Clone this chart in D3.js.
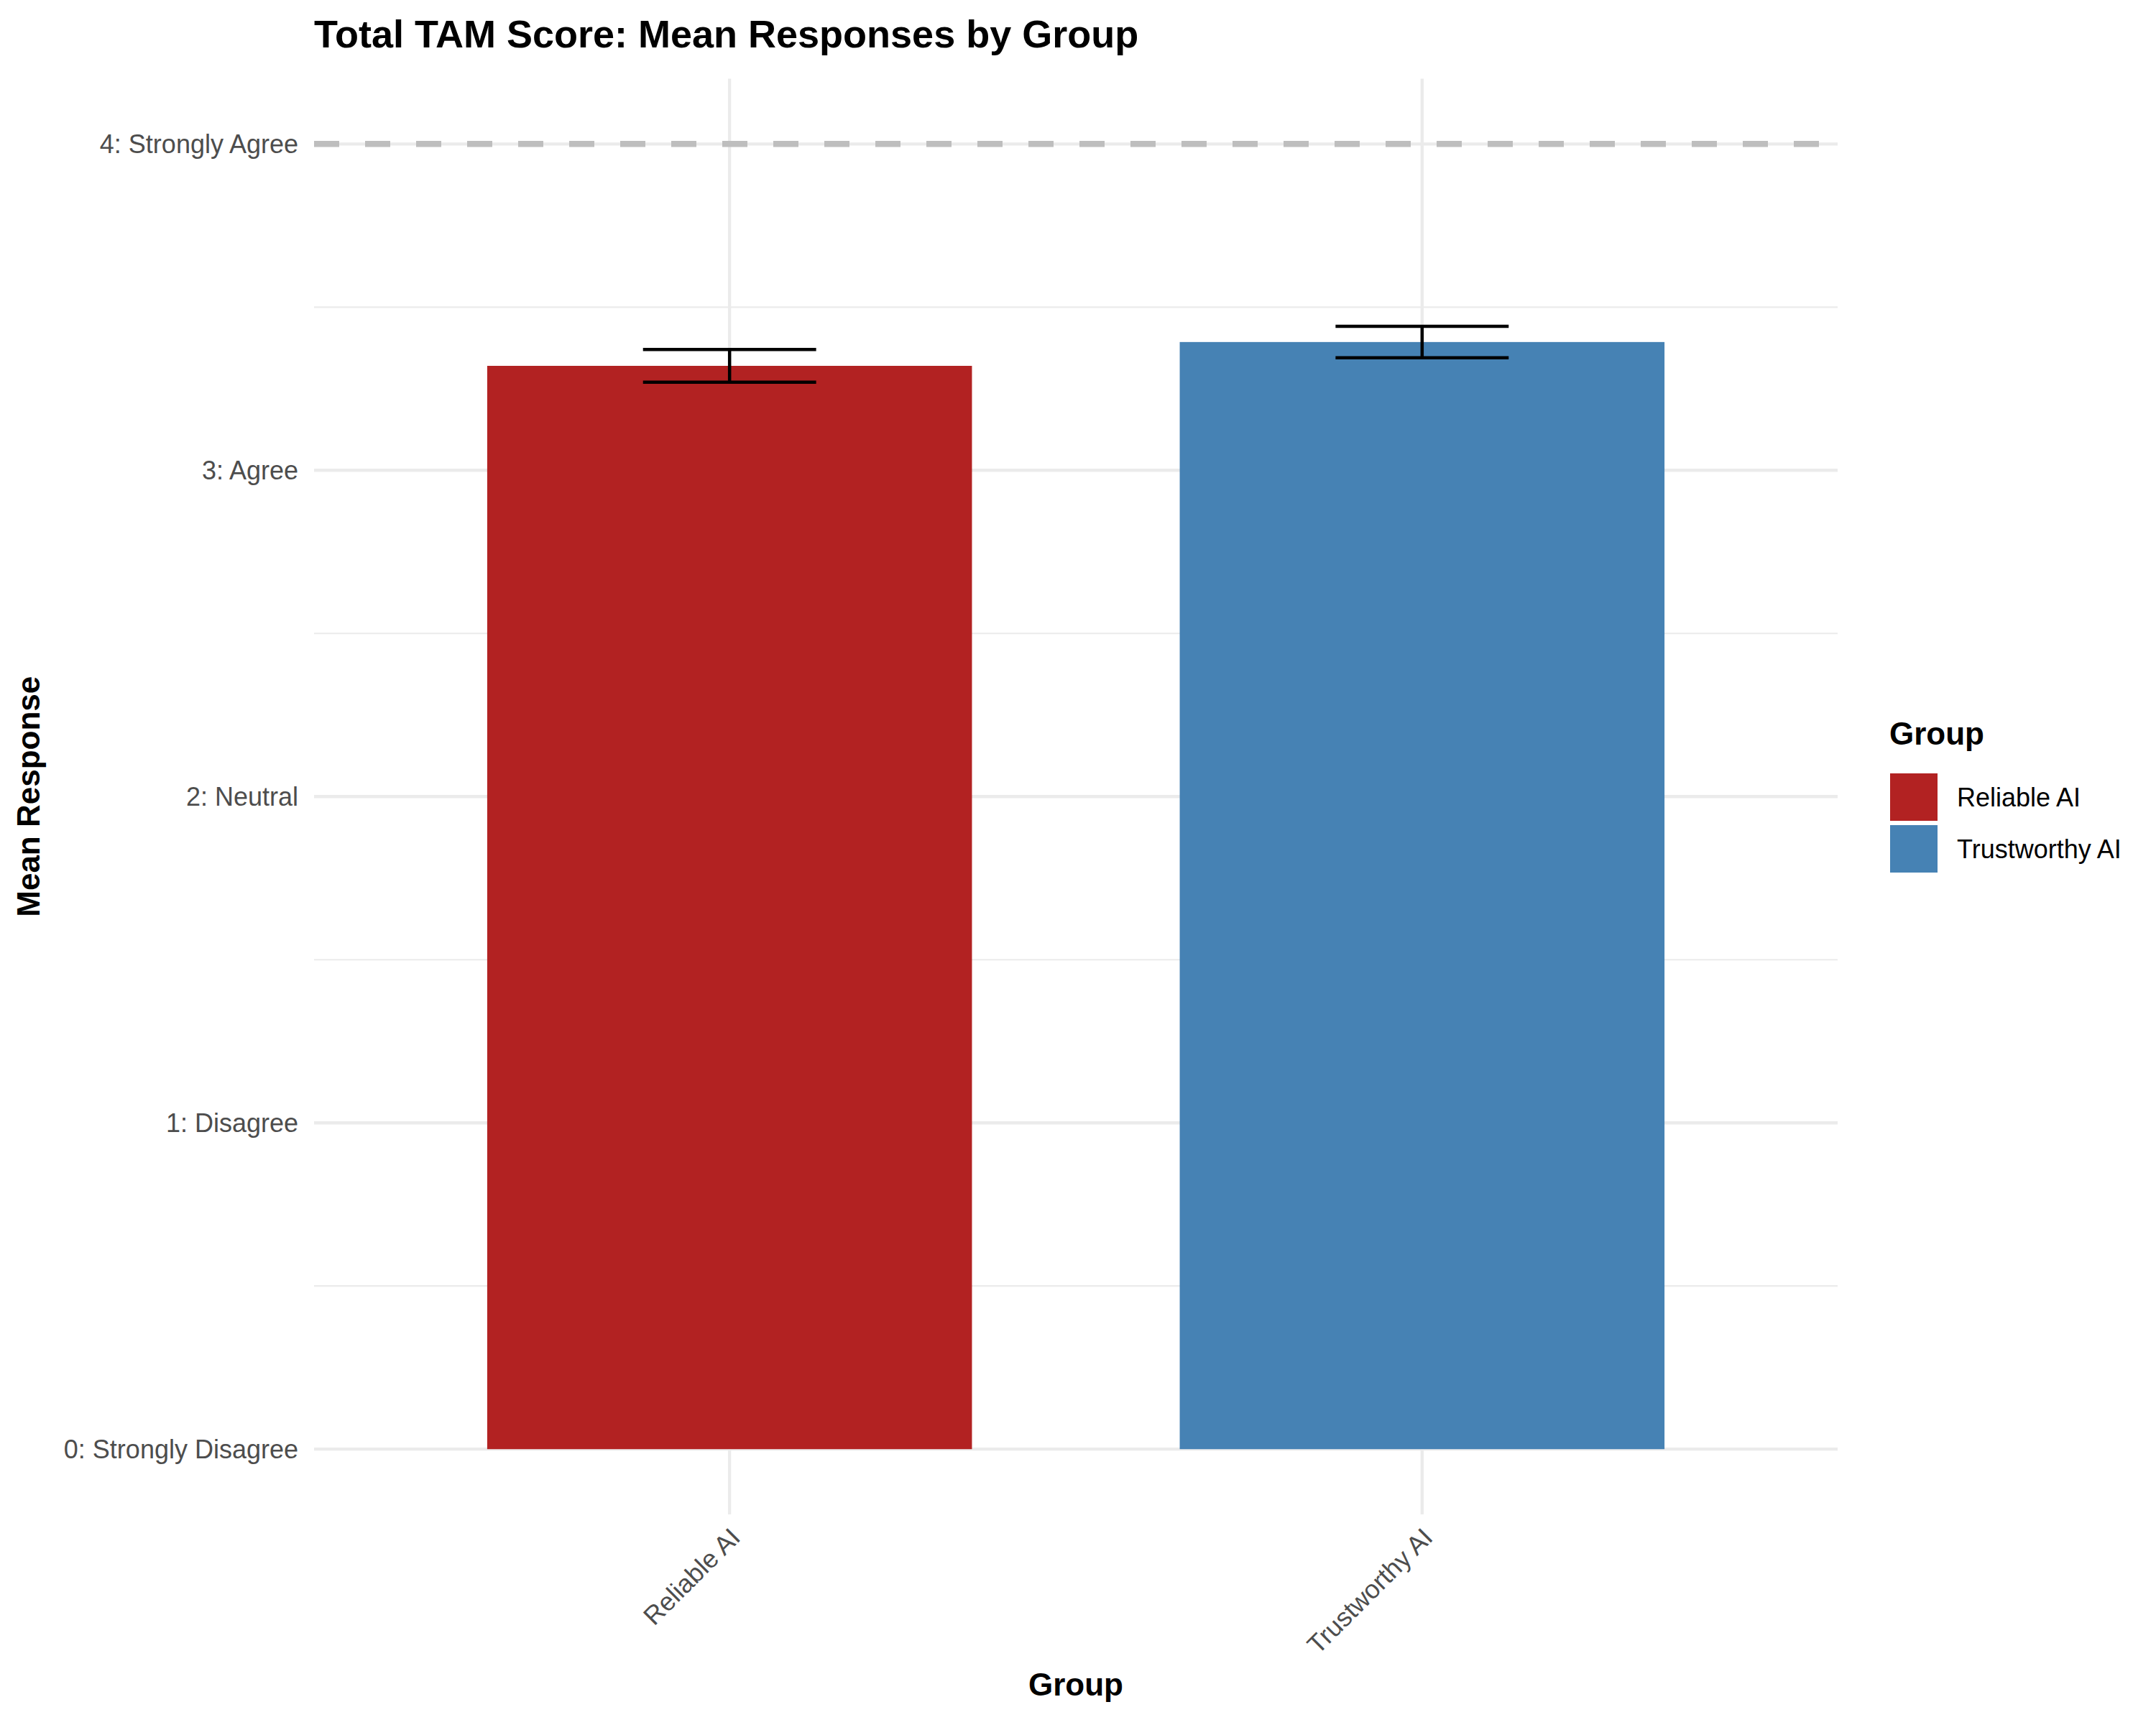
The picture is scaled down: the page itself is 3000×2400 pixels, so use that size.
<!DOCTYPE html>
<html>
<head>
<meta charset="utf-8">
<script src="https://cdn.jsdelivr.net/npm/d3@7"></script>
<style>
  html, body { margin: 0; padding: 0; background: #fff; }
  svg { display: block; font-family: "Liberation Sans", Arial, sans-serif; }
</style>
</head>
<body>
<script>
// ---- data ----
const groups = ["Reliable AI", "Trustworthy AI"];
const means = [3.32, 3.393];
const ses = [0.05, 0.048];
const colors = ["#B22222", "#4682B4"];
const yTickValues = [0, 1, 2, 3, 4];
const yTickLabels = ["0: Strongly Disagree", "1: Disagree", "2: Neutral", "3: Agree", "4: Strongly Agree"];
const yMinorValues = [0.5, 1.5, 2.5, 3.5];
const refLine = 4;
const titleText = "Total TAM Score: Mean Responses by Group";
const xTitle = "Group";
const yTitle = "Mean Response";
const legendTitle = "Group";

// ---- layout ----
const W = 3000, H = 2400;
const panel = { left: 437, right: 2557, top: 109.5, bottom: 2107 };

const svg = d3.select("body").append("svg").attr("width", W).attr("height", H);

const x = d3.scalePoint().domain(groups).range([panel.left, panel.right]).padding(0.6);
const step = x.step();
const y = d3.scaleLinear().domain([-0.2, 4.2]).range([panel.bottom, panel.top]);

const grid = svg.append("g");
// minor horizontal
grid.selectAll("line.minor").data(yMinorValues).join("line")
  .attr("x1", panel.left).attr("x2", panel.right)
  .attr("y1", d => y(d)).attr("y2", d => y(d))
  .attr("stroke", "#ebebeb").attr("stroke-width", 2.2);
// major horizontal
grid.selectAll("line.major").data(yTickValues).join("line")
  .attr("x1", panel.left).attr("x2", panel.right)
  .attr("y1", d => y(d)).attr("y2", d => y(d))
  .attr("stroke", "#ebebeb").attr("stroke-width", 4.3);
// major vertical
grid.selectAll("line.vmajor").data(groups).join("line")
  .attr("x1", d => x(d)).attr("x2", d => x(d))
  .attr("y1", panel.top).attr("y2", panel.bottom)
  .attr("stroke", "#ebebeb").attr("stroke-width", 4.3);

// reference dashed line
svg.append("line")
  .attr("x1", panel.left).attr("x2", panel.right)
  .attr("y1", y(refLine)).attr("y2", y(refLine))
  .attr("stroke", "#bebebe").attr("stroke-width", 8.5)
  .attr("stroke-dasharray", "35,36");

// bars
const barW = 0.7 * step;
svg.append("g").selectAll("rect").data(groups).join("rect")
  .attr("x", d => x(d) - barW / 2)
  .attr("width", barW)
  .attr("y", (d, i) => y(means[i]))
  .attr("height", (d, i) => y(0) - y(means[i]))
  .attr("fill", (d, i) => colors[i]);

// error bars
const capW = 0.25 * step;
const eb = svg.append("g").attr("stroke", "#000").attr("stroke-width", 4.5).attr("fill", "none");
groups.forEach((g, i) => {
  const cx = x(g), hi = y(means[i] + ses[i]), lo = y(means[i] - ses[i]);
  eb.append("line").attr("x1", cx).attr("x2", cx).attr("y1", hi).attr("y2", lo);
  eb.append("line").attr("x1", cx - capW / 2).attr("x2", cx + capW / 2).attr("y1", hi).attr("y2", hi);
  eb.append("line").attr("x1", cx - capW / 2).attr("x2", cx + capW / 2).attr("y1", lo).attr("y2", lo);
});

// y axis labels
const yAxis = d3.axisLeft(y).tickValues(yTickValues)
  .tickFormat((d, i) => yTickLabels[i]).tickSize(0).tickPadding(0);
const gy = svg.append("g").attr("transform", `translate(415,0)`).call(yAxis);
gy.select(".domain").remove();
gy.selectAll("text").attr("fill", "#4d4d4d").attr("font-size", 36)
  .attr("font-family", "Liberation Sans, Arial, sans-serif").attr("dy", "0.35em");

// x axis labels
const xAxis = d3.axisBottom(x).tickSize(0).tickPadding(0);
const gx = svg.append("g").attr("transform", `translate(0,${panel.bottom})`).call(xAxis);
gx.select(".domain").remove();
gx.selectAll(".tick text")
  .attr("fill", "#4d4d4d").attr("font-size", 36)
  .attr("font-family", "Liberation Sans, Arial, sans-serif")
  .attr("text-anchor", "end")
  .attr("y", 0).attr("dy", "0.72em")
  .attr("transform", "translate(-2,16) rotate(-45)");

// titles
svg.append("text").attr("x", panel.left).attr("y", 66)
  .attr("font-size", 54).attr("font-weight", "bold").attr("fill", "#000")
  .text(titleText);
svg.append("text").attr("x", (panel.left + panel.right) / 2).attr("y", 2359)
  .attr("text-anchor", "middle").attr("font-size", 44).attr("font-weight", "bold")
  .text(xTitle);
svg.append("text")
  .attr("transform", `translate(55,${(panel.top + panel.bottom) / 2}) rotate(-90)`)
  .attr("text-anchor", "middle").attr("font-size", 44).attr("font-weight", "bold")
  .text(yTitle);

// legend
const lg = svg.append("g");
lg.append("text").attr("x", 2629).attr("y", 1036)
  .attr("font-size", 44).attr("font-weight", "bold").text(legendTitle);
const keys = lg.selectAll("g.key").data(groups).join("g")
  .attr("transform", (d, i) => `translate(2630,${1076 + i * 72})`);
keys.append("rect").attr("width", 66).attr("height", 66)
  .attr("fill", (d, i) => colors[i]);
keys.append("text").attr("x", 93).attr("y", 33).attr("dy", "0.36em")
  .attr("font-size", 36).attr("fill", "#000").text(d => d);
</script>
</body>
</html>
